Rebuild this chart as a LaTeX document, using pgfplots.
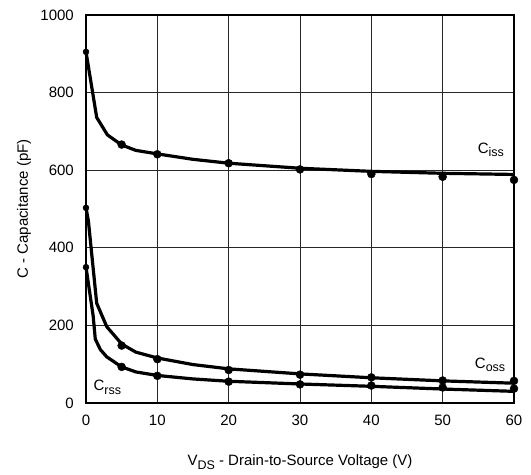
\documentclass[border=0pt]{standalone}
\usepackage{fontspec}
\setmainfont{Liberation Sans}
\usepackage{pgfplots}
\pgfplotsset{compat=1.18}
\newcommand{\sub}[1]{\raisebox{-0.23em}{\fontsize{12.5}{13}\selectfont #1}}
\begin{document}
\fontsize{15}{18}\selectfont
\begin{tikzpicture}
\begin{axis}[
 scale only axis, width=428pt, height=388pt,
 xmin=0,xmax=60,ymin=0,ymax=1000,
 xtick={0,10,...,60}, ytick={0,200,...,1000},
 grid=major, major grid style={black!85,line width=0.8pt},
 axis line style={line width=1.6pt},
 major tick length=0pt,
 tick label style={font=\fontsize{15}{18}\selectfont},
 /pgf/number format/assume math mode=true,
 /pgf/number format/1000 sep={},
 xticklabel shift=7pt, yticklabel shift=7pt,
 label style={font=\fontsize{15}{18}\selectfont},
 xlabel={V\sub{DS} - Drain-to-Source Voltage (V)},
 ylabel={C - Capacitance (pF)},
 every axis x label/.style={at={(axis description cs:0.5,-0.152)},anchor=center},
 every axis y label/.style={at={(axis description cs:-0.145,0.5)},anchor=center,rotate=90},
 clip=false,
]
% Ciss
\addplot[black, line width=3.2pt, line join=round] coordinates {
 (0,905) (1.5,736) (3,691) (5,665) (7,651) (10,642) (15,628) (20,618) (30,605) (40,597) (50,592) (60,589)};
\addplot[only marks, mark=*, mark size=4pt, black] coordinates {
 (5,666) (10,641) (20,618) (30,602) (40,590) (50,583) (60,575)};
% Coss
\addplot[black, line width=3.2pt, line join=round] coordinates {
 (0,503) (0.33,470) (1.5,257) (2.9,197) (5,152) (7,131) (10,116) (15,99) (20,88) (30,75) (40,65) (50,57) (60,51)};
\addplot[only marks, mark=*, mark size=4pt, black] coordinates {
 (5,148) (10,113) (20,85) (30,73) (40,66) (50,58) (60,57)};
% Crss
\addplot[black, line width=3.2pt, line join=round] coordinates {
 (0,350) (1,225) (1.3,165) (2,138) (2.9,119) (5,93) (7,80) (10,71) (15,62) (20,56) (30,49) (40,43) (50,36) (60,30)};
\addplot[only marks, mark=*, mark size=4pt, black] coordinates {
 (5,93) (10,70) (20,55) (30,48) (40,45) (50,40) (60,37)};
\addplot[only marks, mark=*, mark size=3pt, black] coordinates {
 (0,905) (0,503) (0,350)};
\node[anchor=base west, inner sep=0pt] at (axis cs:54.9,643) {C\sub{iss}};
\node[anchor=base west, inner sep=0pt] at (axis cs:54.5,89) {C\sub{oss}};
\node[anchor=base west, inner sep=0pt] at (axis cs:1.03,32) {C\sub{rss}};
\end{axis}
\pgfresetboundingbox
\path ([xshift=-86pt,yshift=-72pt]current axis.south west) rectangle ([xshift=17pt,yshift=15pt]current axis.north east);
\end{tikzpicture}
\end{document}
